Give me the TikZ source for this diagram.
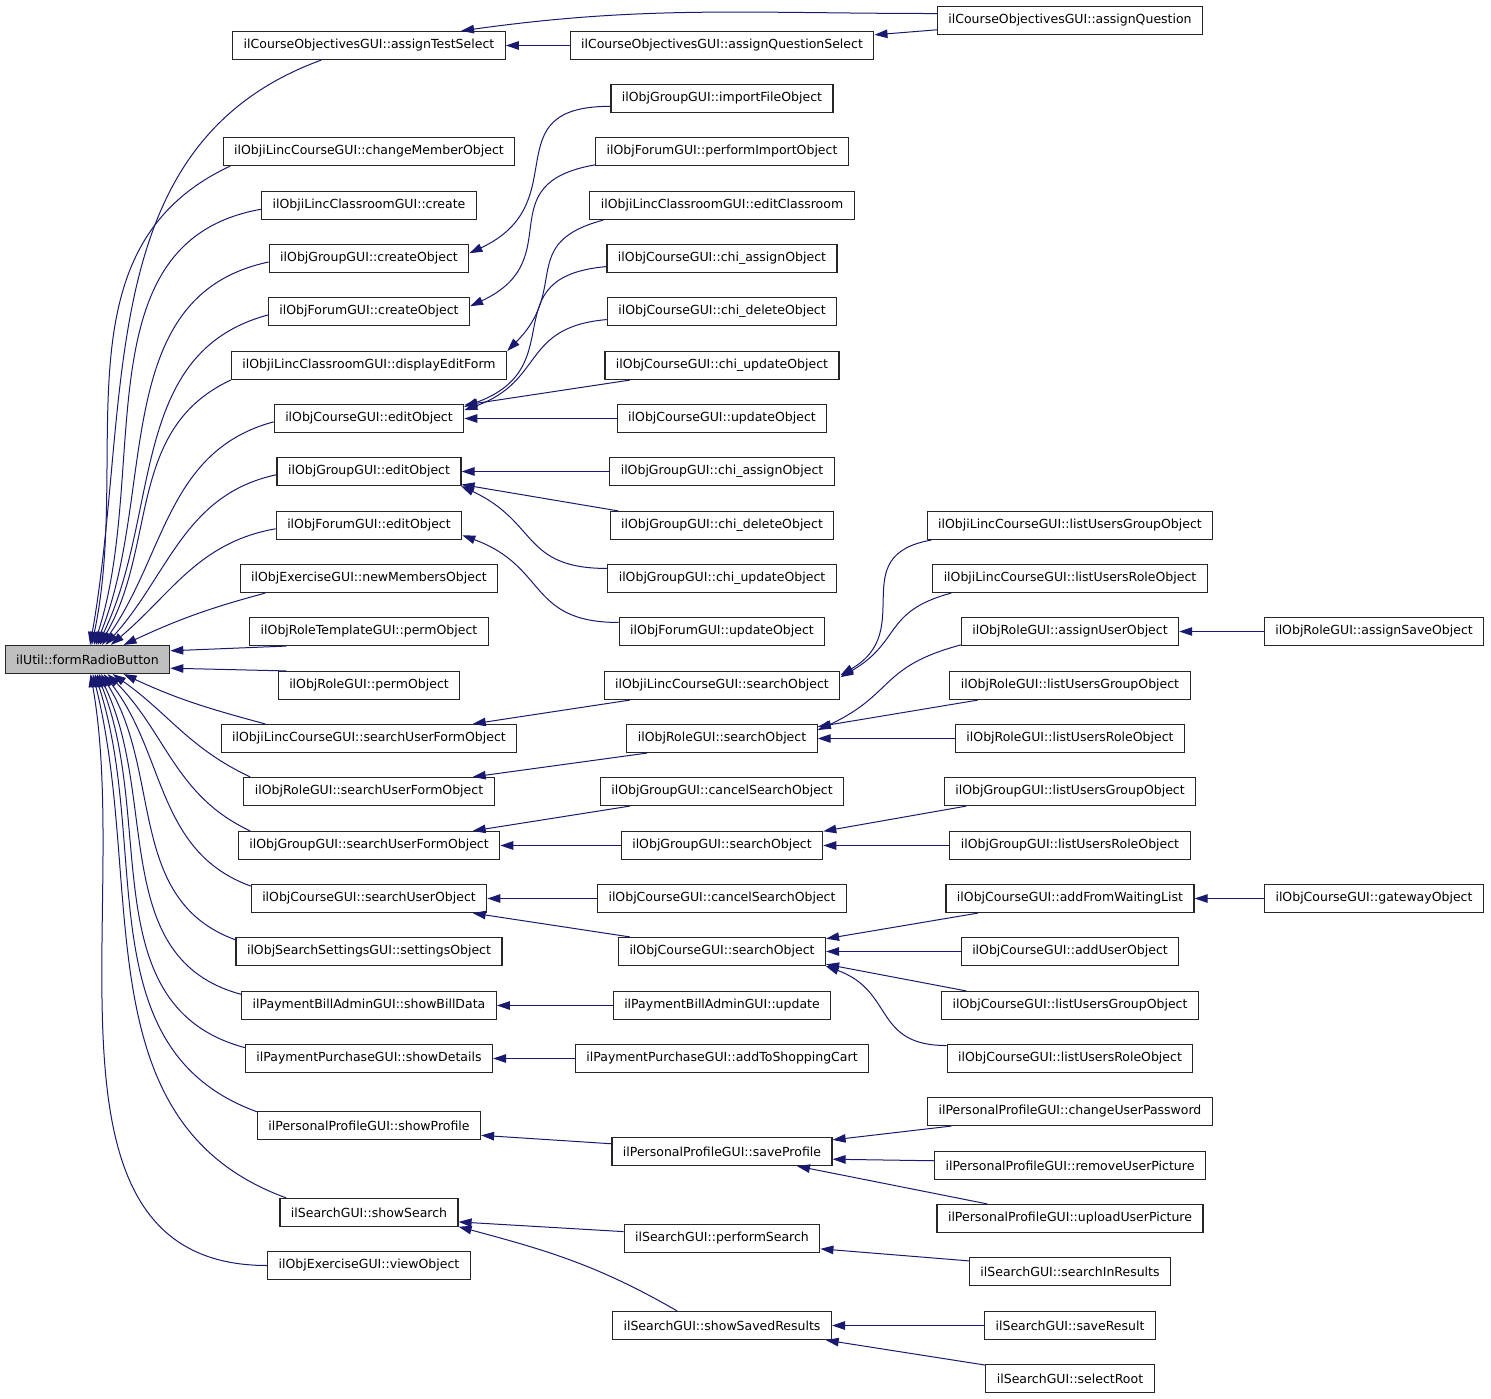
\documentclass[tikz,border=0pt]{standalone}
\usepackage{fontspec}
\setmainfont{DejaVu Sans}
\usetikzlibrary{arrows.meta}
\definecolor{callcol}{HTML}{191970}
\colorlet{boxline}{black!85}
\colorlet{rootfill}{black!25}
\newcommand{\gvfont}{\fontsize{12.5}{15}\selectfont}

\begin{document}
\begin{tikzpicture}[x=1pt, y=1pt,
    fn/.style={draw=boxline, line width=1.15pt, fill=white, font=\gvfont,%
               minimum height=28pt, inner xsep=11pt, inner ysep=0pt, anchor=center},
    rootfn/.style={fn, fill=rootfill},
    call/.style={draw=callcol, line width=1pt, -{Triangle[length=13pt,width=8.5pt]}}
]
\useasboundingbox (0,1.5) rectangle (1491,-1397.5);

\node[rootfn] (root) at (87.5,-658) {ilUtil::formRadioButton};

\node[fn] (ats) at (369,-44) {ilCourseObjectivesGUI::assignTestSelect};
\node[fn] (chm) at (369,-150) {ilObjiLincCourseGUI::changeMemberObject};
\node[fn] (lcc) at (369,-204) {ilObjiLincClassroomGUI::create};
\node[fn] (gco) at (369,-257) {ilObjGroupGUI::createObject};
\node[fn] (fco) at (369,-310) {ilObjForumGUI::createObject};
\node[fn] (def) at (369,-364) {ilObjiLincClassroomGUI::displayEditForm};
\node[fn] (ced) at (369,-417) {ilObjCourseGUI::editObject};
\node[fn] (ged) at (369,-470) {ilObjGroupGUI::editObject};
\node[fn] (fed) at (369,-524) {ilObjForumGUI::editObject};
\node[fn] (nmo) at (369,-577) {ilObjExerciseGUI::newMembersObject};
\node[fn] (rtp) at (369,-630) {ilObjRoleTemplateGUI::permObject};
\node[fn] (rpo) at (369,-684) {ilObjRoleGUI::permObject};
\node[fn] (lsu) at (369,-737) {ilObjiLincCourseGUI::searchUserFormObject};
\node[fn] (rsu) at (369,-790) {ilObjRoleGUI::searchUserFormObject};
\node[fn] (gsu) at (369,-844) {ilObjGroupGUI::searchUserFormObject};
\node[fn] (csu) at (369,-897) {ilObjCourseGUI::searchUserObject};
\node[fn] (sso) at (369,-950) {ilObjSearchSettingsGUI::settingsObject};
\node[fn] (sbd) at (369,-1004) {ilPaymentBillAdminGUI::showBillData};
\node[fn] (sdt) at (369,-1057) {ilPaymentPurchaseGUI::showDetails};
\node[fn] (spr) at (369,-1124) {ilPersonalProfileGUI::showProfile};
\node[fn] (ssr) at (369,-1211) {ilSearchGUI::showSearch};
\node[fn] (vob) at (369,-1264) {ilObjExerciseGUI::viewObject};

\node[fn] (aqs) at (722,-44) {ilCourseObjectivesGUI::assignQuestionSelect};
\node[fn] (ifo) at (722,-97) {ilObjGroupGUI::importFileObject};
\node[fn] (pio) at (722,-150) {ilObjForumGUI::performImportObject};
\node[fn] (ecl) at (722,-204) {ilObjiLincClassroomGUI::editClassroom};
\node[fn] (cca) at (722,-257) {ilObjCourseGUI::chi\_assignObject};
\node[fn] (ccd) at (722,-310) {ilObjCourseGUI::chi\_deleteObject};
\node[fn] (ccu) at (722,-364) {ilObjCourseGUI::chi\_updateObject};
\node[fn] (cuo) at (722,-417) {ilObjCourseGUI::updateObject};
\node[fn] (gca) at (722,-470) {ilObjGroupGUI::chi\_assignObject};
\node[fn] (gcd) at (722,-524) {ilObjGroupGUI::chi\_deleteObject};
\node[fn] (gcu) at (722,-577) {ilObjGroupGUI::chi\_updateObject};
\node[fn] (fuo) at (722,-630) {ilObjForumGUI::updateObject};
\node[fn] (lso) at (722,-684) {ilObjiLincCourseGUI::searchObject};
\node[fn] (rso) at (722,-737) {ilObjRoleGUI::searchObject};
\node[fn] (gcs) at (722,-790) {ilObjGroupGUI::cancelSearchObject};
\node[fn] (gso) at (722,-844) {ilObjGroupGUI::searchObject};
\node[fn] (ccs) at (722,-897) {ilObjCourseGUI::cancelSearchObject};
\node[fn] (cso) at (722,-950) {ilObjCourseGUI::searchObject};
\node[fn] (pbu) at (722,-1004) {ilPaymentBillAdminGUI::update};
\node[fn] (pac) at (722,-1057) {ilPaymentPurchaseGUI::addToShoppingCart};
\node[fn] (svp) at (722,-1150) {ilPersonalProfileGUI::saveProfile};
\node[fn] (psr) at (722,-1237) {ilSearchGUI::performSearch};
\node[fn] (ssv) at (722,-1324) {ilSearchGUI::showSavedResults};

\node[fn] (aq)  at (1070,-19) {ilCourseObjectivesGUI::assignQuestion};
\node[fn] (ilg) at (1070,-524) {ilObjiLincCourseGUI::listUsersGroupObject};
\node[fn] (ilr) at (1070,-577) {ilObjiLincCourseGUI::listUsersRoleObject};
\node[fn] (rau) at (1070,-630) {ilObjRoleGUI::assignUserObject};
\node[fn] (rlg) at (1070,-684) {ilObjRoleGUI::listUsersGroupObject};
\node[fn] (rlr) at (1070,-737) {ilObjRoleGUI::listUsersRoleObject};
\node[fn] (glg) at (1070,-790) {ilObjGroupGUI::listUsersGroupObject};
\node[fn] (glr) at (1070,-844) {ilObjGroupGUI::listUsersRoleObject};
\node[fn] (afw) at (1070,-897) {ilObjCourseGUI::addFromWaitingList};
\node[fn] (aus) at (1070,-950) {ilObjCourseGUI::addUserObject};
\node[fn] (clg) at (1070,-1004) {ilObjCourseGUI::listUsersGroupObject};
\node[fn] (clr) at (1070,-1057) {ilObjCourseGUI::listUsersRoleObject};
\node[fn] (cup) at (1070,-1110) {ilPersonalProfileGUI::changeUserPassword};
\node[fn] (rup) at (1070,-1164) {ilPersonalProfileGUI::removeUserPicture};
\node[fn] (uup) at (1070,-1217) {ilPersonalProfileGUI::uploadUserPicture};
\node[fn] (sir) at (1070,-1270) {ilSearchGUI::searchInResults};
\node[fn] (srs) at (1070,-1324) {ilSearchGUI::saveResult};
\node[fn] (srt) at (1070,-1377) {ilSearchGUI::selectRoot};

\node[fn] (aso) at (1374,-630) {ilObjRoleGUI::assignSaveObject};
\node[fn] (gwo) at (1374,-897) {ilObjCourseGUI::gatewayObject};

\draw[call] (ats.197) to[out=200,in=80] (root.80);
\draw[call] (chm.186) to[out=205,in=78] (root.74);
\draw[call] (lcc.182) to[out=190,in=72] (root.66);
\draw[call] (gco.182) to[out=192,in=68] (root.60);
\draw[call] (fco.182) to[out=195,in=64] (root.55);
\draw[call] (def.186) to[out=205,in=60] (root.50);
\draw[call] (ced.182) to[out=195,in=55] (root.45);
\draw[call] (ged.182) to[out=192,in=48] (root.39);
\draw[call] (fed.182) to[out=190,in=40] (root.32);
\draw[call] (nmo.188) to[out=195,in=25] (root.22);
\draw[call] (rtp.190) -- (root.6);
\draw[call] (rpo.170) -- (root.-6);
\draw[call] (lsu.172) to[out=165,in=-25] (root.-22);
\draw[call] (rsu.173) to[out=155,in=-35] (root.-30);
\draw[call] (gsu.173) to[out=155,in=-45] (root.-36);
\draw[call] (csu.174) to[out=160,in=-52] (root.-42);
\draw[call] (sso.175) to[out=160,in=-58] (root.-47);
\draw[call] (sbd.175) to[out=165,in=-64] (root.-52);
\draw[call] (sdt.175) to[out=165,in=-68] (root.-57);
\draw[call] (spr.173) to[out=160,in=-72] (root.-63);
\draw[call] (ssr.170) to[out=160,in=-76] (root.-70);
\draw[call] (vob.west) to[out=180,in=-80] (root.-78);

\draw[call] (aq.177) to[out=180,in=8] (ats.9);
\draw[call] (aq.184) -- (aqs.4);
\draw[call] (aqs.west) -- (ats.east);
\draw[call] (ifo.184) to[out=180,in=25,looseness=1.5] (gco.3);
\draw[call] (pio.186) to[out=190,in=25,looseness=1.5] (fco.3);
\draw[call] (ecl.187) to[out=195,in=45,looseness=1.4] (def.6);
\draw[call] (cca.184) to[out=185,in=20,looseness=1.5] (ced.7);
\draw[call] (ccd.184) to[out=185,in=20,looseness=1.3] (ced.5);
\draw[call] (ccu.189) -- (ced.8);
\draw[call] (cuo.west) -- (ced.east);
\draw[call] (gca.west) -- (ged.east);
\draw[call] (gcd.172) -- (ged.-8);
\draw[call] (gcu.175) to[out=180,in=-25,looseness=1.3] (ged.-9);
\draw[call] (fuo.175) to[out=180,in=-20,looseness=1.3] (fed.-6);
\draw[call] (lso.189) -- (lsu.8);
\draw[call] (rso.191) -- (rsu.8);
\draw[call] (gcs.189) -- (gsu.8);
\draw[call] (gso.west) -- (gsu.east);
\draw[call] (ccs.west) -- (csu.east);
\draw[call] (cso.171) -- (csu.-8);
\draw[call] (pbu.west) -- (sbd.east);
\draw[call] (pac.west) -- (sdt.east);
\draw[call] (svp.176) -- (spr.-5);
\draw[call] (psr.176) -- (ssr.-6);
\draw[call] (ssv.162) to[out=150,in=-15] (ssr.-9);

\draw[call] (ilg.186) to[out=190,in=30,looseness=1.4] (lso.5);
\draw[call] (ilr.187) to[out=195,in=30,looseness=1.3] (lso.4);
\draw[call] (rau.187) to[out=195,in=25,looseness=1.3] (rso.5);
\draw[call] (rlg.189) -- (rso.7);
\draw[call] (rlr.west) -- (rso.east);
\draw[call] (glg.188) -- (gso.8);
\draw[call] (glr.west) -- (gso.east);
\draw[call] (afw.189) -- (cso.7);
\draw[call] (aus.west) -- (cso.east);
\draw[call] (clg.172) -- (cso.-7);
\draw[call] (clr.174) to[out=180,in=-20,looseness=1.3] (cso.-8);
\draw[call] (cup.187) -- (svp.6);
\draw[call] (rup.178) -- (svp.-4);
\draw[call] (uup.170) -- (svp.-11);
\draw[call] (sir.174) -- (psr.-6);
\draw[call] (srs.west) -- (ssv.east);
\draw[call] (srt.171) -- (ssv.-8);

\draw[call] (aso.west) -- (rau.east);
\draw[call] (gwo.west) -- (afw.east);
\end{tikzpicture}
\end{document}
